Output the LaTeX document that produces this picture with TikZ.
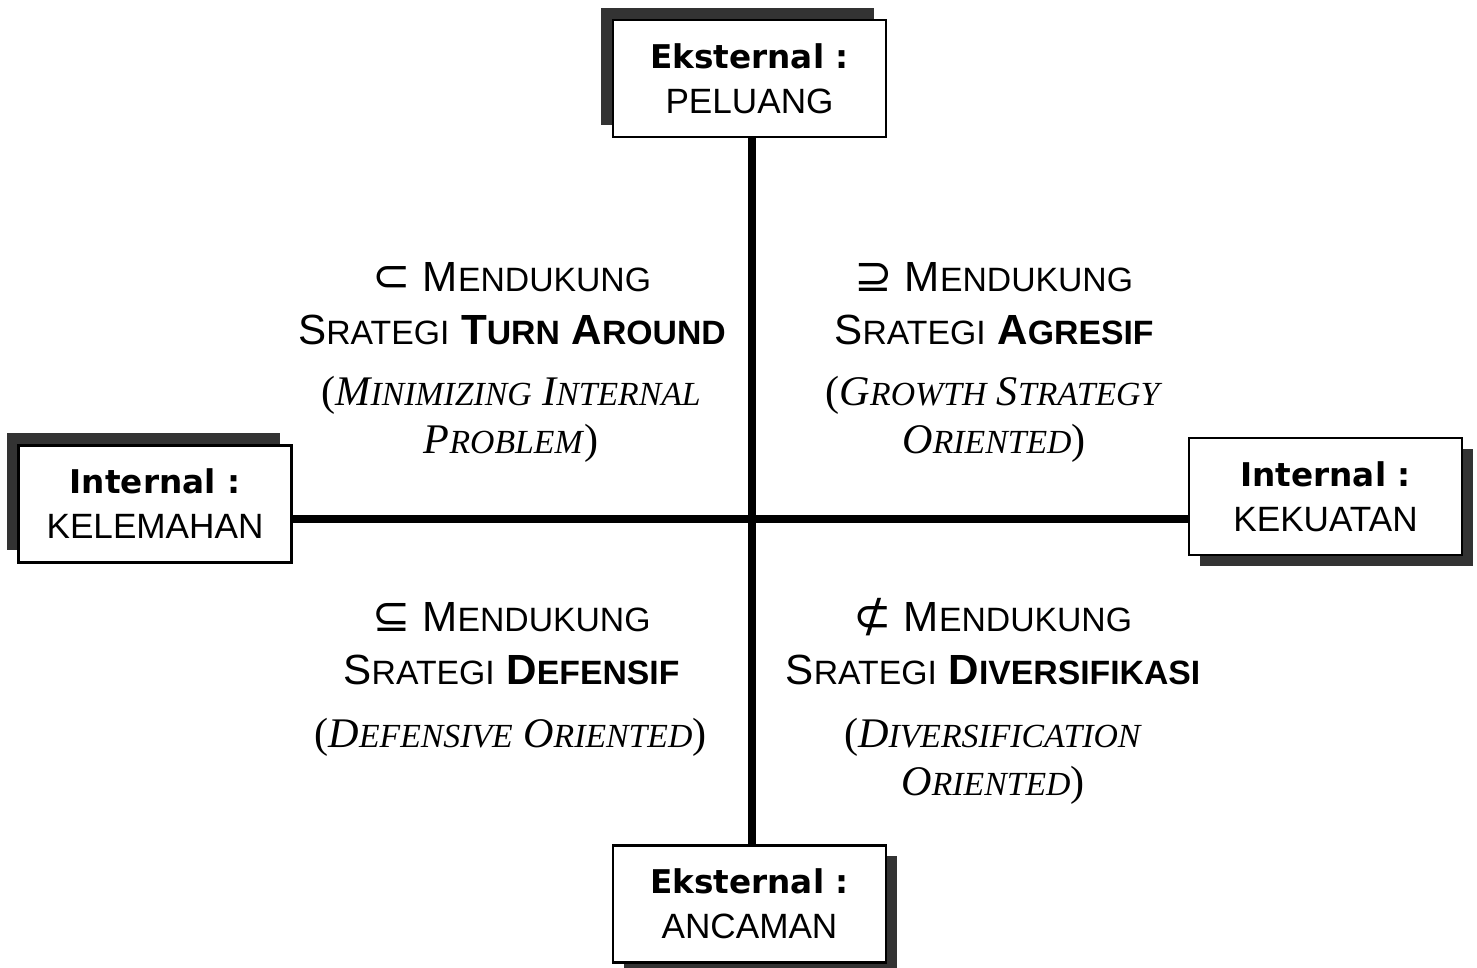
\documentclass[tikz,border=0pt]{standalone}
\usepackage{fontspec}
\setmainfont{Liberation Sans}
\newfontfamily\serifit{Liberation Serif}
\newfontfamily\boxbold{DejaVu Sans}
\usetikzlibrary{shadows}
\newcommand\fsc[2]{#1{\fontsize{9.6pt}{9.6pt}\selectfont #2}}
\newcommand\himp[1]{\smash{\boxbold\fontsize{13pt}{13pt}\selectfont #1}}
\tikzset{
	sisi/.style={draw=black, line width=0.6pt, fill=white, minimum width=2.73cm, minimum height=1.17cm, inner sep=0pt, align=center, font=\fontsize{10pt}{12.8pt}\selectfont},
	kiriatas/.style={drop shadow={shadow xshift=-0.12cm, shadow yshift=0.12cm, fill=black!80, opacity=1}},
	kananbawah/.style={drop shadow={shadow xshift=0.11cm, shadow yshift=-0.11cm, fill=black!80, opacity=1}},
	judul/.style={align=center, inner sep=0pt, font=\fontsize{12pt}{15pt}\selectfont},
	catatan/.style={align=center, inner sep=0pt, font=\serifit\fontsize{12pt}{13.6pt}\selectfont},
	sumbu/.style={line width=2pt}
}
\begin{document}
\begin{tikzpicture}
			%%%%% START %%%%%
			\useasboundingbox (0, 0) rectangle (14.77, -9.68);
			
			\coordinate (pusat) at (7.52, -5.19);
			
			\node[sisi, kiriatas] (peluang) at (7.495, -0.785) {{\boxbold\bfseries\fontsize{9.3pt}{12.8pt}\selectfont Eksternal :}\\PELUANG};
			\node[sisi, kiriatas] (kelemahan) at (1.55, -5.04) {{\boxbold\bfseries\fontsize{9.3pt}{12.8pt}\selectfont Internal :}\\KELEMAHAN};
			\node[sisi, kananbawah] (kekuatan) at (13.255, -4.965) {{\boxbold\bfseries\fontsize{9.3pt}{12.8pt}\selectfont Internal :}\\KEKUATAN};
			\node[sisi, kananbawah] (ancaman) at (7.495, -9.04) {{\boxbold\bfseries\fontsize{9.3pt}{12.8pt}\selectfont Eksternal :}\\ANCAMAN};
			
			\draw[sumbu] (pusat |- peluang.south) -- (pusat |- ancaman.north);
			\draw[sumbu] (kelemahan.east |- pusat) -- (kekuatan.west |- pusat);
			
			\node[judul] (turnaround) at (5.12, -3.035) {\himp{⊂} \fsc{M}{ENDUKUNG}\\\fsc{S}{RATEGI} \textbf{\fsc{T}{URN} \fsc{A}{ROUND}}};
			\node[catatan] (minimizing) at (5.11, -4.19) {(\textit{\fsc{M}{INIMIZING} \fsc{I}{NTERNAL}}\\\textit{\fsc{P}{ROBLEM}})};
			
			\node[judul] (agresif) at (9.94, -3.035) {\himp{⊇} \fsc{M}{ENDUKUNG}\\\fsc{S}{RATEGI} \textbf{\fsc{A}{GRESIF}}};
			\node[catatan] (growth) at (9.94, -4.19) {(\textit{\fsc{G}{ROWTH} \fsc{S}{TRATEGY}}\\\textit{\fsc{O}{RIENTED}})};
			
			\node[judul] (defensif) at (5.115, -6.44) {\himp{⊆} \fsc{M}{ENDUKUNG}\\\fsc{S}{RATEGI} \textbf{\fsc{D}{EFENSIF}}};
			\node[catatan] (defensive) at (5.105, -7.37) {(\textit{\fsc{D}{EFENSIVE} \fsc{O}{RIENTED}})};
			
			\node[judul] (diversifikasi) at (9.93, -6.44) {\himp{⊄} \fsc{M}{ENDUKUNG}\\\fsc{S}{RATEGI} \textbf{\fsc{D}{IVERSIFIKASI}}};
			\node[catatan] (diversification) at (9.93, -7.61) {(\textit{\fsc{D}{IVERSIFICATION}}\\\textit{\fsc{O}{RIENTED}})};
			
			%%%%% END %%%%%
\end{tikzpicture}
\end{document}
